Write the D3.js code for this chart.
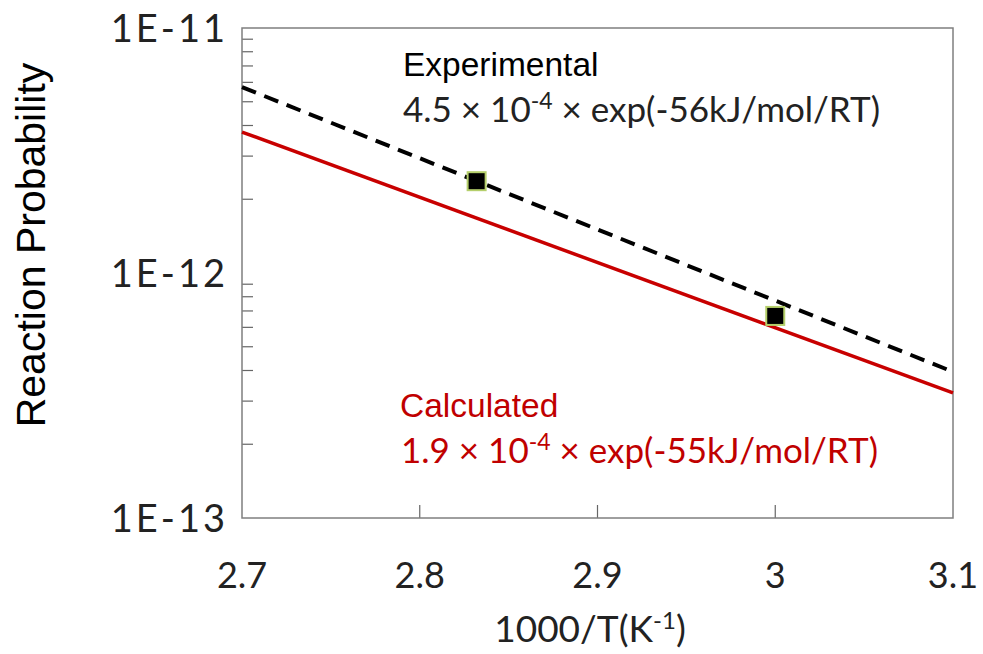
<!DOCTYPE html>
<html>
<head>
<meta charset="utf-8">
<script src="https://cdn.jsdelivr.net/npm/d3@7"></script>
<style>
  body { margin: 0; background: #fff; }
  svg { display: block; }
</style>
</head>
<body>
<div id="chart"></div>
<script>
// data
const xTickValues = [2.7, 2.8, 2.9, 3.0, 3.1];
const yMajorValues = [1e-13, 1e-12, 1e-11];
const yMajorLabels = ["1E-13", "1E-12", "1E-11"];
const experimentalLine = [[2.7, 5.74e-12], [3.1, 3.95e-13]];
const calculatedLine = [[2.7, 3.76e-12], [3.1, 3.24e-13]];
const measuredX = [2.832, 3.0];
const measuredY = [2.37e-12, 6.68e-13];

const width = 983, height = 654;
const margin = { top: 28, right: 30, bottom: 136, left: 242 };
const innerW = width - margin.left - margin.right;
const innerH = height - margin.top - margin.bottom;

const svg = d3.select("#chart").append("svg")
  .attr("width", width)
  .attr("height", height);

const x = d3.scaleLinear().domain([2.7, 3.1]).range([0, innerW]);
const y = d3.scaleLog().domain([1e-13, 1e-11]).range([innerH, 0]);

const g = svg.append("g").attr("transform", `translate(${margin.left},${margin.top})`);

const numFont = "Lato, 'Open Sans', sans-serif";
const sansFont = "'Liberation Sans', Arial, sans-serif";

// minor ticks on the left, pointing inward
const minorTicks = y.ticks().filter(v => !yMajorValues.some(m => Math.abs(m - v) / m < 1e-6));
g.selectAll(".minor-tick")
  .data(minorTicks)
  .enter().append("line")
  .attr("class", "minor-tick")
  .attr("x1", 0).attr("x2", 11)
  .attr("y1", d => y(d)).attr("y2", d => y(d))
  .attr("stroke", "#666").attr("stroke-width", 1.2);

// inner x ticks
g.selectAll(".x-tick")
  .data(xTickValues.slice(1, -1))
  .enter().append("line")
  .attr("class", "x-tick")
  .attr("x1", d => x(d)).attr("x2", d => x(d))
  .attr("y1", innerH).attr("y2", innerH - 13)
  .attr("stroke", "#666").attr("stroke-width", 1.2);

// frame
g.append("rect")
  .attr("width", innerW).attr("height", innerH)
  .attr("fill", "none")
  .attr("stroke", "#7f7f7f")
  .attr("stroke-width", 1.5);

// tick labels
g.selectAll(".x-label")
  .data(xTickValues)
  .enter().append("text")
  .attr("x", d => x(d))
  .attr("y", innerH + 70)
  .attr("text-anchor", "middle")
  .attr("font-family", numFont)
  .attr("font-size", 36)
  .attr("fill", "#222")
  .text(d => d3.format("")(+d.toFixed(1)));

g.selectAll(".y-label")
  .data(yMajorValues)
  .enter().append("text")
  .attr("x", -14)
  .attr("y", d => y(d))
  .attr("dy", "0.36em")
  .attr("text-anchor", "end")
  .attr("font-family", numFont)
  .attr("font-size", 38)
  .attr("letter-spacing", 3)
  .attr("fill", "#222")
  .text((d, i) => yMajorLabels[i]);

// lines
const line = d3.line().x(d => x(d[0])).y(d => y(d[1]));

g.append("path")
  .datum(calculatedLine)
  .attr("d", line)
  .attr("fill", "none")
  .attr("stroke", "#c80000")
  .attr("stroke-width", 3.5);

g.append("path")
  .datum(experimentalLine)
  .attr("d", line)
  .attr("fill", "none")
  .attr("stroke", "#000")
  .attr("stroke-width", 4)
  .attr("stroke-dasharray", "15 9");

// measured points
const ms = 18;
g.selectAll(".pt")
  .data(measuredX.map((v, i) => [v, measuredY[i]]))
  .enter().append("rect")
  .attr("class", "pt")
  .attr("x", d => x(d[0]) - ms / 2)
  .attr("y", d => y(d[1]) - ms / 2)
  .attr("width", ms).attr("height", ms)
  .attr("fill", "#000")
  .attr("stroke", "#b5cf6b")
  .attr("stroke-width", 2);

// annotations
svg.append("text")
  .attr("x", 403).attr("y", 76)
  .attr("font-family", sansFont).attr("font-size", 33.5)
  .attr("fill", "#000")
  .text("Experimental");

const eq1 = svg.append("text")
  .attr("x", 403).attr("y", 122)
  .attr("font-family", numFont).attr("font-size", 35)
  .attr("fill", "#222");
eq1.append("tspan").text("4.5 × 10");
eq1.append("tspan").attr("dy", -13).attr("font-size", 23).text("-4");
eq1.append("tspan").attr("dy", 13).text(" × exp(-56kJ/mol/RT)");

svg.append("text")
  .attr("x", 400).attr("y", 417)
  .attr("font-family", sansFont).attr("font-size", 33.5)
  .attr("fill", "#c00000")
  .text("Calculated");

const eq2 = svg.append("text")
  .attr("x", 401).attr("y", 463)
  .attr("font-family", numFont).attr("font-size", 35)
  .attr("fill", "#c00000");
eq2.append("tspan").text("1.9 × 10");
eq2.append("tspan").attr("dy", -13).attr("font-size", 23).text("-4");
eq2.append("tspan").attr("dy", 13).text(" × exp(-55kJ/mol/RT)");

// axis titles
svg.append("text")
  .attr("transform", `translate(45, 245) rotate(-90)`)
  .attr("text-anchor", "middle")
  .attr("font-family", sansFont).attr("font-size", 41)
  .attr("fill", "#000")
  .text("Reaction Probability");

const xt = svg.append("text")
  .attr("x", 590).attr("y", 642)
  .attr("text-anchor", "middle")
  .attr("font-family", numFont).attr("font-size", 37)
  .attr("fill", "#222");
xt.append("tspan").text("1000/T(K");
xt.append("tspan").attr("dy", -13).attr("font-size", 24).text("-1");
xt.append("tspan").attr("dy", 13).text(")");
</script>
</body>
</html>
